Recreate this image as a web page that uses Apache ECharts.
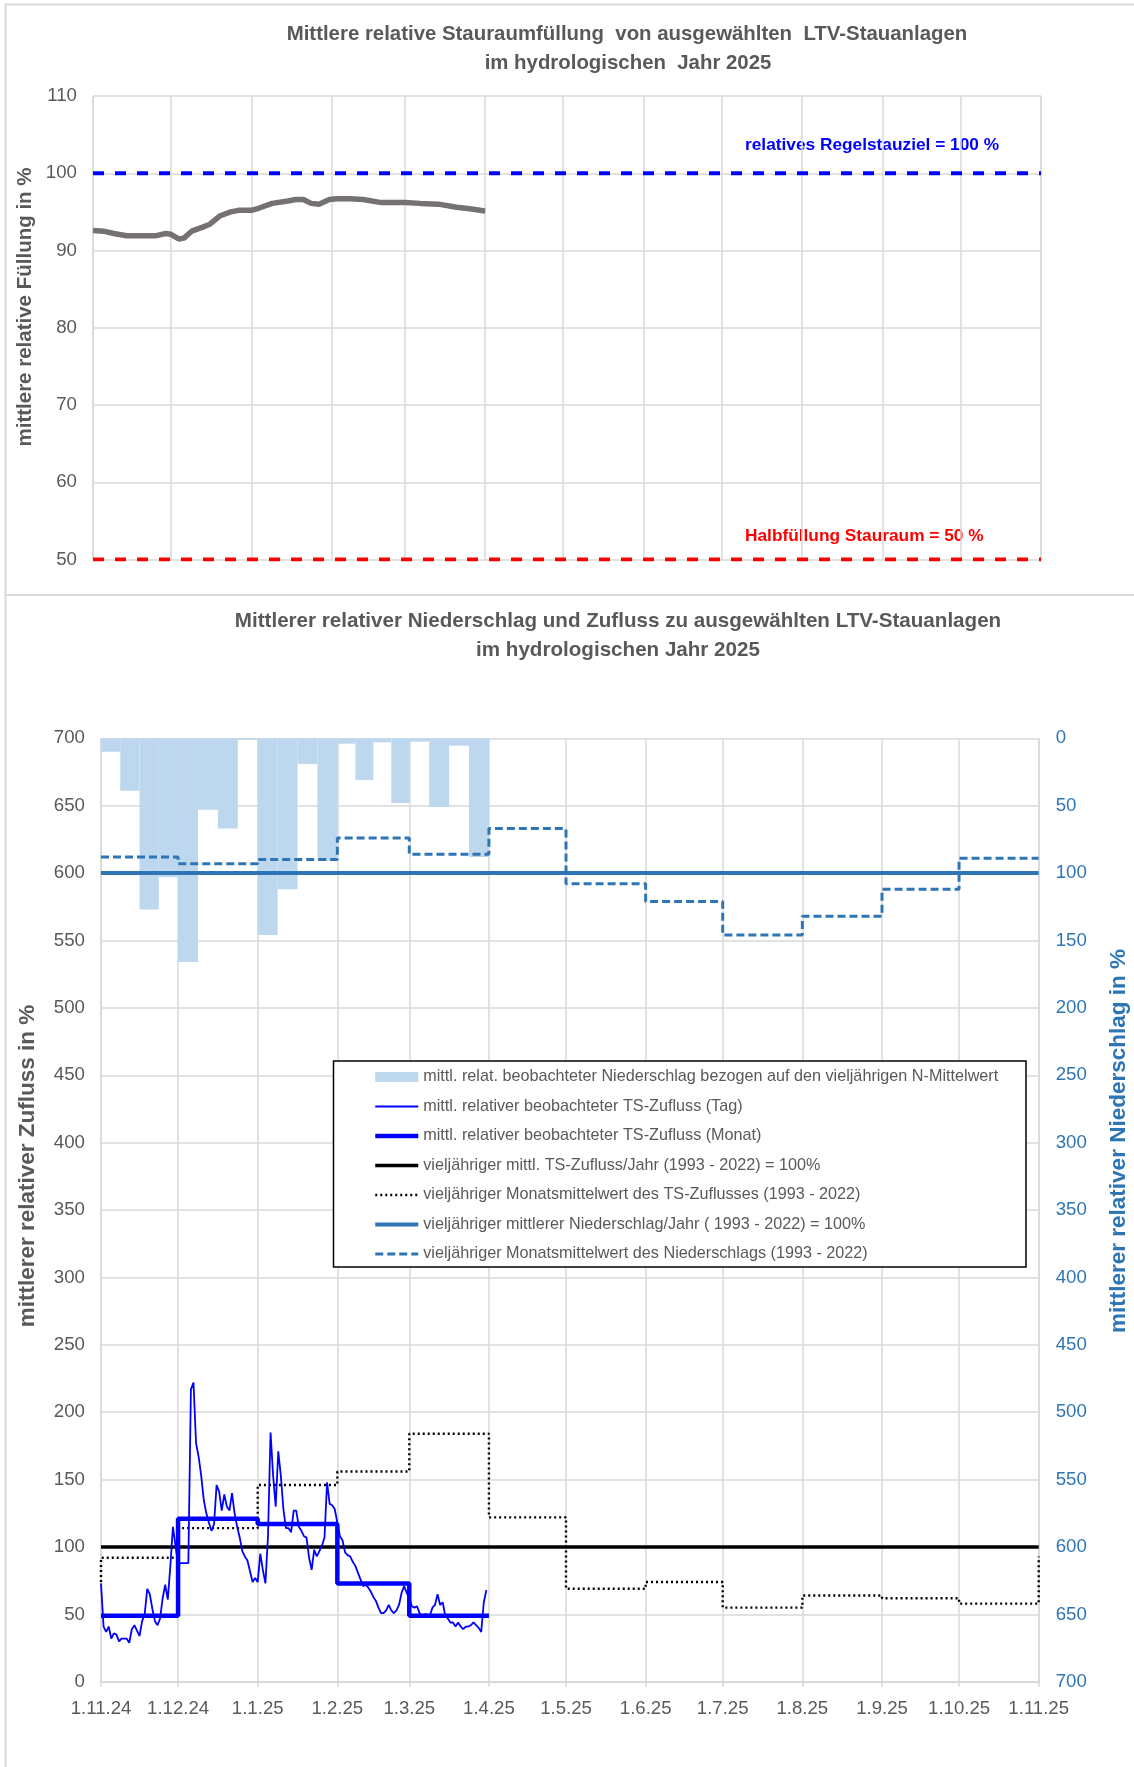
<!DOCTYPE html>
<html>
<head>
<meta charset="utf-8">
<title>LTV-Stauanlagen – hydrologisches Jahr 2025</title>
<script src="https://cdn.jsdelivr.net/npm/echarts@6/dist/echarts.min.js"></script>
<style>
  html, body { margin: 0; padding: 0; background: #fff; }
  #chart { width: 1134px; height: 1767px; }
</style>
</head>
<body>
<div id="chart"></div>
<script>
// --- Daten oberes Diagramm: mittlere relative Stauraumfüllung in % ---
const fillDates = ['2024-11-01', '2024-11-05', '2024-11-09', '2024-11-14', '2024-11-20', '2024-11-25', '2024-11-29',
  '2024-12-01', '2024-12-04', '2024-12-06', '2024-12-09', '2024-12-13', '2024-12-16', '2024-12-20', '2024-12-24', '2024-12-27',
  '2025-01-01', '2025-01-04', '2025-01-09', '2025-01-15', '2025-01-18', '2025-01-21', '2025-01-24', '2025-01-27', '2025-01-31',
  '2025-02-03', '2025-02-08', '2025-02-13', '2025-02-20',
  '2025-03-01', '2025-03-07', '2025-03-14', '2025-03-21', '2025-03-26', '2025-03-30', '2025-04-01']
const fillValues = [92.6, 92.5, 92.2, 91.9, 91.9, 91.9, 92.2,
  92.1, 91.5, 91.6, 92.5, 93.0, 93.4, 94.5, 95.0, 95.2,
  95.2, 95.5, 96.1, 96.4, 96.6, 96.6, 96.1, 96.0, 96.6,
  96.7, 96.7, 96.6, 96.2,
  96.2, 96.1, 96.0, 95.6, 95.4, 95.2, 95.1]
const regelstauziel = 100
const halbfuellung = 50

// --- Daten unteres Diagramm ---
// Monatsanfänge 1.11.24 ... 1.11.25
const monthStarts = ['2024-11-01', '2024-12-01', '2025-01-01', '2025-02-01', '2025-03-01', '2025-04-01', '2025-05-01',
  '2025-06-01', '2025-07-01', '2025-08-01', '2025-09-01', '2025-10-01', '2025-11-01']
// beobachteter Niederschlag in % (je Viertelmonat, Nov - Mär)
const precipValues = [10, 39, 127, 103, 166, 53, 67, 1, 146, 112, 19, 91, 4, 31, 3, 48, 2.5, 51, 5.5, 88]
// beobachteter TS-Zufluss in %, Tageswerte ab 1.11.24
const inflowDaily = [
  73, 41, 37, 41, 32, 36, 35, 30, 32, 32, 32, 29, 39, 42, 38, 34, 45, 50, 69, 65, 54, 45, 42, 47, 62, 72, 61, 86, 115, 101,
  87, 88, 88, 88, 88, 217, 222, 177, 167, 153, 135, 125, 118, 112, 117, 146, 141, 127, 139, 130, 127, 140, 125, 115, 107, 97, 93, 90, 82, 74, 77,
  74, 95, 83, 73, 108, 185, 153, 130, 171, 153, 128, 114, 114, 111, 127, 127, 115, 112, 108, 107, 92, 83, 98, 93, 97, 101, 107, 148, 132, 131, 128,
  118, 108, 105, 96, 94, 93, 89, 86, 81, 76, 71, 72, 70, 67, 63, 60, 55, 51, 51, 53, 57, 53, 51, 53, 57, 66, 71, 66,
  62, 56, 55, 56, 51, 49, 50, 50, 49, 55, 57, 65, 57, 59, 49, 47, 44, 44, 41, 44, 41, 39, 41, 41, 42, 44, 42, 40, 37, 59, 68]
// Monatswerte TS-Zufluss Nov - Mär
const inflowMonth = [49, 121, 117, 73, 49]
// vieljährige Monatsmittel TS-Zufluss Nov - Okt, Anfangs- und Endwert
const tsMonthMean = [92, 114, 146, 156, 184, 122, 69, 74, 55, 64, 62, 58]
const tsStart = 74
const tsEnd = 93
// vieljährige Monatsmittel Niederschlag Nov - Okt
const nMonthMean = [88, 93, 90, 74, 86, 67, 108, 121, 146, 132, 112, 89]
const tsYearMean = 100
const nYearMean = 100

// Schriften und Farben
const FONT = "'Liberation Sans', Arial, sans-serif"
const GRAY = '#595959'
const GRID_COLOR = '#d9d9d9'
const N_BLUE = '#2E75B6'

// Datum lokal umwandeln
function t(s) {
  const p = s.split('-').map(Number)
  return new Date(p[0], p[1] - 1, p[2]).getTime()
}
const T0 = t(monthStarts[0])
const T1 = t(monthStarts[monthStarts.length - 1])

// Treppenlinie aus Monatswerten bauen
function monthSteps(values, lastValue) {
  const pts = values.map((v, i) => [t(monthStarts[i]), v])
  pts.push([t(monthStarts[values.length]), lastValue])
  return pts
}

const dailyData = inflowDaily.map((v, i) => [new Date(2024, 10, 1 + i).getTime(), v])
const monthInflowData = monthSteps(inflowMonth, inflowMonth[inflowMonth.length - 1])
const tsMonthData = [[T0, tsStart]].concat(monthSteps(tsMonthMean, tsEnd))
const nMonthData = monthSteps(nMonthMean, nMonthMean[nMonthMean.length - 1])

// Niederschlag: je Monat vier gleich breite Abschnitte
const precipData = precipValues.map((v, i) => {
  const m = Math.floor(i / 4)
  const k = i % 4
  const a = t(monthStarts[m])
  const len = t(monthStarts[m + 1]) - a
  return [a + len * k / 4, a + len * (k + 1) / 4, v]
})

const names = [
  'mittl. relat. beobachteter Niederschlag bezogen auf den vieljährigen N-Mittelwert',
  'mittl. relativer beobachteter TS-Zufluss (Tag)',
  'mittl. relativer beobachteter TS-Zufluss (Monat)',
  'vieljähriger mittl. TS-Zufluss/Jahr (1993 - 2022) = 100%',
  'vieljähriger Monatsmittelwert des TS-Zuflusses (1993 - 2022)',
  'vieljähriger mittlerer Niederschlag/Jahr ( 1993 - 2022) = 100%',
  'vieljähriger Monatsmittelwert des Niederschlags (1993 - 2022)'
]
// Linienbreiten der Reihen (auch für die Legende)
const lineWidths = [0, 1.8, 4.5, 3.5, 2.4, 4, 3]

const chart = echarts.init(document.getElementById('chart'))

const timeAxis = {
  type: 'time',
  min: T0,
  max: T1,
  splitNumber: 12,
  minInterval: 28 * 86400000,
  maxInterval: 31 * 86400000,
  axisTick: { show: false },
  splitLine: { show: true, lineStyle: { color: GRID_COLOR, width: 1.5 } }
}

// Legende: Linien ohne Punkt-Symbol, Breite wie im Diagramm
const legendData = names.map((n, i) => i === 0
  ? { name: n, icon: 'rect' }
  : { name: n, itemStyle: { opacity: 0 }, lineStyle: { width: lineWidths[i] } })

const option = {
  animation: false,
  backgroundColor: '#fff',
  textStyle: { fontFamily: FONT },
  grid: [
    { left: 93, top: 96, width: 948, height: 463.5 },
    { left: 101, top: 738.3, width: 937.7, height: 943.5 }
  ],
  xAxis: [
    Object.assign({}, timeAxis, {
      gridIndex: 0,
      axisLine: { show: false },
      axisLabel: { show: false }
    }),
    Object.assign({}, timeAxis, {
      gridIndex: 1,
      axisLine: { show: true, lineStyle: { color: GRID_COLOR, width: 2 } },
      axisTick: { show: true, length: 5, lineStyle: { color: GRID_COLOR, width: 1.5 } },
      axisLabel: {
        formatter: '{d}.{M}.{yy}', color: GRAY, fontSize: 18.6, margin: 18,
        showMinLabel: true, showMaxLabel: true, hideOverlap: false
      }
    })
  ],
  yAxis: [
    {
      type: 'value', gridIndex: 0, min: 50, max: 110, interval: 10,
      axisLine: { show: false }, axisTick: { show: false },
      axisLabel: { color: GRAY, fontSize: 18.7, margin: 16 },
      splitLine: { lineStyle: { color: GRID_COLOR, width: 1.5 } }
    },
    {
      type: 'value', gridIndex: 1, min: 0, max: 700, interval: 50,
      axisLine: { show: false }, axisTick: { show: false },
      axisLabel: { color: GRAY, fontSize: 18.7, margin: 16 },
      splitLine: { lineStyle: { color: GRID_COLOR, width: 1.5 } }
    },
    {
      type: 'value', gridIndex: 1, min: 0, max: 700, interval: 50, inverse: true, position: 'right',
      axisLine: { show: false }, axisTick: { show: false },
      axisLabel: { color: N_BLUE, fontSize: 18.7, margin: 17 },
      splitLine: { show: false }
    }
  ],
  legend: {
    left: 368, top: 1062, orient: 'vertical', z: 20,
    itemWidth: 43, itemHeight: 10, itemGap: 9.5, selectedMode: false,
    textStyle: { color: GRAY, fontSize: 16.2, lineHeight: 20 },
    data: legendData
  },
  graphic: [
    { type: 'rect', z: -1, shape: { x: 5.5, y: 4.5, width: 1140, height: 590.5 }, style: { fill: 'none', stroke: GRID_COLOR, lineWidth: 2 } },
    { type: 'rect', z: -1, shape: { x: 5.5, y: 595, width: 1140, height: 1180 }, style: { fill: 'none', stroke: GRID_COLOR, lineWidth: 2 } },
    { type: 'text', x: 627, y: 34, style: { text: 'Mittlere relative Stauraumfüllung  von ausgewählten  LTV-Stauanlagen', font: 'bold 20.4px ' + FONT, fill: GRAY, align: 'center', verticalAlign: 'middle' } },
    { type: 'text', x: 628, y: 63, style: { text: 'im hydrologischen  Jahr 2025', font: 'bold 20.4px ' + FONT, fill: GRAY, align: 'center', verticalAlign: 'middle' } },
    { type: 'text', x: 618, y: 621, style: { text: 'Mittlerer relativer Niederschlag und Zufluss zu ausgewählten LTV-Stauanlagen', font: 'bold 20.6px ' + FONT, fill: GRAY, align: 'center', verticalAlign: 'middle' } },
    { type: 'text', x: 618, y: 650, style: { text: 'im hydrologischen Jahr 2025', font: 'bold 20.6px ' + FONT, fill: GRAY, align: 'center', verticalAlign: 'middle' } },
    { type: 'text', x: 745, y: 145, style: { text: 'relatives Regelstauziel = 100 %', font: 'bold 17.3px ' + FONT, fill: '#0000FF', align: 'left', verticalAlign: 'middle' } },
    { type: 'text', x: 745, y: 536, style: { text: 'Halbfüllung Stauraum = 50 %', font: 'bold 17.3px ' + FONT, fill: '#FF0000', align: 'left', verticalAlign: 'middle' } },
    { type: 'text', x: 25, y: 307, rotation: Math.PI / 2, style: { text: 'mittlere relative Füllung in %', font: 'bold 20.5px ' + FONT, fill: GRAY, align: 'center', verticalAlign: 'middle' } },
    { type: 'text', x: 28, y: 1166, rotation: Math.PI / 2, style: { text: 'mittlerer relativer Zufluss in %', font: 'bold 22.5px ' + FONT, fill: GRAY, align: 'center', verticalAlign: 'middle' } },
    { type: 'text', x: 1119, y: 1141, rotation: Math.PI / 2, style: { text: 'mittlerer relativer Niederschlag in %', font: 'bold 22.5px ' + FONT, fill: N_BLUE, align: 'center', verticalAlign: 'middle' } },
    // Rahmen der Legende
    { type: 'rect', z: 15, shape: { x: 333.5, y: 1061, width: 692.5, height: 206 }, style: { fill: '#fff', stroke: '#000', lineWidth: 1.5 } }
  ],
  series: [
    // oberes Diagramm
    {
      type: 'line', xAxisIndex: 0, yAxisIndex: 0, showSymbol: false, z: 3,
      data: [[T0, regelstauziel], [T1, regelstauziel]],
      lineStyle: { color: '#0000FF', width: 4, type: [11, 11] }
    },
    {
      type: 'line', xAxisIndex: 0, yAxisIndex: 0, showSymbol: false, z: 3,
      data: [[T0, halbfuellung], [T1, halbfuellung]],
      lineStyle: { color: '#FF0000', width: 4, type: [11, 11] }
    },
    {
      type: 'line', xAxisIndex: 0, yAxisIndex: 0, showSymbol: false, z: 4,
      data: fillDates.map((d, i) => [t(d), fillValues[i]]),
      lineStyle: { color: '#767171', width: 5.5 }
    },
    // unteres Diagramm
    {
      name: names[0], type: 'custom', xAxisIndex: 1, yAxisIndex: 2, z: 1,
      itemStyle: { color: '#BDD7EE' },
      encode: { x: [0, 1], y: 2 },
      data: precipData,
      renderItem(params, api) {
        const p0 = api.coord([api.value(0), 0])
        const p1 = api.coord([api.value(1), api.value(2)])
        return {
          type: 'rect',
          shape: { x: p0[0], y: p0[1], width: p1[0] - p0[0], height: p1[1] - p0[1] },
          style: { fill: '#BDD7EE' }
        }
      }
    },
    {
      name: names[1], type: 'line', xAxisIndex: 1, yAxisIndex: 1, showSymbol: false, symbol: 'none', z: 6,
      data: dailyData,
      lineStyle: { color: '#0000FF', width: lineWidths[1] }, itemStyle: { color: '#0000FF' }
    },
    {
      name: names[2], type: 'line', xAxisIndex: 1, yAxisIndex: 1, showSymbol: false, symbol: 'none', z: 7, step: 'end',
      data: monthInflowData,
      lineStyle: { color: '#0000FF', width: lineWidths[2] }, itemStyle: { color: '#0000FF' }
    },
    {
      name: names[3], type: 'line', xAxisIndex: 1, yAxisIndex: 1, showSymbol: false, symbol: 'none', z: 5,
      data: [[T0, tsYearMean], [T1, tsYearMean]],
      lineStyle: { color: '#000000', width: lineWidths[3] }, itemStyle: { color: '#000000' }
    },
    {
      name: names[4], type: 'line', xAxisIndex: 1, yAxisIndex: 1, showSymbol: false, symbol: 'none', z: 4, step: 'end',
      data: tsMonthData,
      lineStyle: { color: '#000000', width: lineWidths[4], type: [2, 3] }, itemStyle: { color: '#000000' }
    },
    {
      name: names[5], type: 'line', xAxisIndex: 1, yAxisIndex: 2, showSymbol: false, symbol: 'none', z: 4,
      data: [[T0, nYearMean], [T1, nYearMean]],
      lineStyle: { color: N_BLUE, width: lineWidths[5] }, itemStyle: { color: N_BLUE }
    },
    {
      name: names[6], type: 'line', xAxisIndex: 1, yAxisIndex: 2, showSymbol: false, symbol: 'none', z: 4, step: 'end',
      data: nMonthData,
      lineStyle: { color: N_BLUE, width: lineWidths[6], type: [8, 4] }, itemStyle: { color: N_BLUE }
    }
  ]
}

chart.setOption(option)
</script>
</body>
</html>
